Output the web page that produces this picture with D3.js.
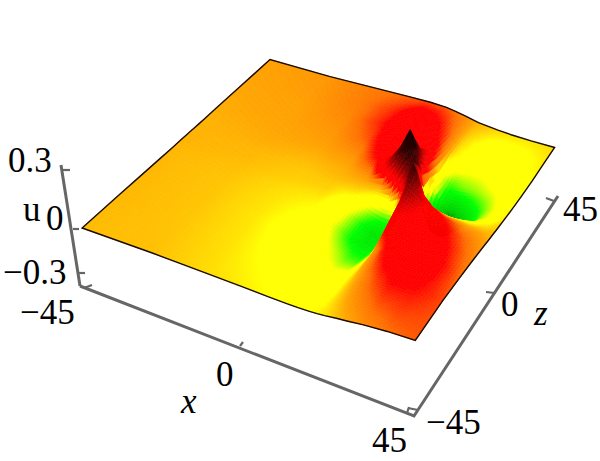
<!DOCTYPE html>
<html>
<head>
<meta charset="utf-8">
<script src="https://cdn.jsdelivr.net/npm/d3@7"></script>
<style>
  html, body { margin: 0; padding: 0; background: #fff; }
  text { font-family: "Liberation Serif", serif; font-size: 35px; fill: #000; }
</style>
</head>
<body>
<svg id="chart" width="600" height="461">
  <defs><filter id="soft" x="0" y="0" width="100%" height="100%"><feGaussianBlur stdDeviation="0.7"/></filter></defs>
</svg>
<script>
// sample positions of the surface, tighter around the peak
const xGrid = [-45, -25, -10, 0, 7, 12, 15, 18, 20, 22, 25, 28, 32, 38, 45];
const zGrid = [-45, -30, -20, -12, -6, -2, 1, 3, 5, 7, 10, 14, 20, 28, 36, 45];

// u, one row per zGrid entry
const uRows = [
  [-.005, -.006, -.012, -.016, -.020, -.022, -.022, -.020, -.018, -.014, -.006, .000, .010, .020, .025],
  [-.004, -.007, -.014, -.024, -.030, -.038, -.040, -.035, -.025, -.005, .015, .030, .042, .040, .028],
  [-.004, -.007, -.015, -.028, -.040, -.060, -.075, -.078, -.050, .005, .040, .060, .060, .050, .020],
  [-.004, -.007, -.014, -.022, -.055, -.090, -.100, -.100, -.080, .060, .068, .068, .060, .040, .012],
  [-.004, -.006, -.012, -.016, -.048, -.090, -.110, -.105, -.070, .100, .085, .070, .055, .028, .004],
  [-.003, -.005, -.009, -.010, -.028, -.070, -.085, -.090, -.020, .150, .110, .070, .040, .012, -.002],
  [-.003, -.004, -.008, -.008, -.012, -.030, -.040, -.030, .100, .210, .080, .030, .005, -.005, -.005],
  [-.003, -.004, -.007, -.005, -.005, -.012, -.010, .070, .170, .160, .030, -.010, -.018, -.018, -.008],
  [-.003, -.003, -.006, -.003, .000, .005, .080, .200, .230, .030, -.090, -.090, -.050, -.030, -.010],
  [-.003, -.002, -.004, -.002, .008, .090, .170, .295, .210, -.030, -.160, -.180, -.120, -.050, -.012],
  [-.003, -.001, -.002, .002, .030, .100, .180, .220, .110, -.060, -.180, -.210, -.150, -.065, -.015],
  [-.002, .000, .002, .010, .050, .075, .120, .130, .050, -.020, -.110, -.140, -.110, -.065, -.018],
  [-.001, .001, .006, .025, .060, .070, .070, .060, .030, -.050, -.080, -.070, -.065, -.050, -.020],
  [0, .002, .012, .035, .060, .060, .050, .035, .010, -.015, -.025, -.040, -.040, -.030, -.020],
  [.001, .004, .016, .032, .050, .045, .035, .020, .005, -.010, -.020, -.028, -.030, -.026, -.016],
  [.002, .006, .016, .022, .026, .024, .018, .010, .004, -.002, -.006, -.010, -.013, -.014, -.012]
];

const xTicks = [-45, 0, 45];
const zTicks = [-45, 0, 45];
const uTicks = [-0.3, 0, 0.3];

const colorStops = [-.2, -.17, -.13, -.085, -.062, -.05, -.02, 0, .02, .04, .075, .13, .2, .3];
const colorValues = ["#002000", "#006000", "#00d000", "#00ff00", "#a8ff00", "#ffff00", "#ffff00",
  "#ffa500", "#ff7000", "#ff0000", "#ff0000", "#900000", "#300000", "#100000"];

const svg = d3.select("#chart");
const color = d3.scaleLinear().domain(colorStops).range(colorValues);

const sScale = d3.scaleLinear().domain([-45, 45]).range([0, 1]);
const tScale = d3.scaleLinear().domain([-45, 45]).range([0, 1]);
const liftScale = d3.scaleLinear().domain([-0.3, 0.3]).range([-0.0375, 0.0375]);

// square to quad homography, corners of the surface at u = 0
function makeHomography(p0, p1, p2, p3) {
  const dx1 = p1[0] - p2[0], dy1 = p1[1] - p2[1];
  const dx2 = p3[0] - p2[0], dy2 = p3[1] - p2[1];
  const sx = p0[0] - p1[0] + p2[0] - p3[0], sy = p0[1] - p1[1] + p2[1] - p3[1];
  const den = dx1 * dy2 - dx2 * dy1;
  const g = (sx * dy2 - dx2 * sy) / den, h = (dx1 * sy - sx * dy1) / den;
  const a = p1[0] - p0[0] + g * p1[0], b = p3[0] - p0[0] + h * p3[0];
  const d = p1[1] - p0[1] + g * p1[1], e = p3[1] - p0[1] + h * p3[1];
  return (s, t) => {
    const w = g * s + h * t + 1;
    return [(a * s + b * t + p0[0]) / w, (d * s + e * t + p0[1]) / w];
  };
}

const ground = makeHomography([82, 227], [415, 345], [555, 145], [270, 60]);
const vanish = [320, 1800];

function project(x, z, u) {
  const g = ground(sScale(x), tScale(z));
  const k = 1 + liftScale(u);
  return [vanish[0] + (g[0] - vanish[0]) * k, vanish[1] + (g[1] - vanish[1]) * k, g[1]];
}

// each grid cell is shaded in small pieces between its four corners
function sampleU(i, j, fx, fz) {
  const r0 = uRows[j], r1 = uRows[j + 1];
  return (r0[i] * (1 - fx) + r0[i + 1] * fx) * (1 - fz) + (r1[i] * (1 - fx) + r1[i + 1] * fx) * fz;
}

const pieces = [];
for (let j = 0; j < zGrid.length - 1; j++) {
  for (let i = 0; i < xGrid.length - 1; i++) {
    const dx = xGrid[i + 1] - xGrid[i], dz = zGrid[j + 1] - zGrid[j];
    const nx = Math.ceil(dx / 0.8), nz = Math.ceil(dz / 0.8);
    for (let b = 0; b < nz; b++) {
      for (let a = 0; a < nx; a++) {
        const corners = [[a, b], [a + 1, b], [a + 1, b + 1], [a, b + 1]].map(c => {
          const fx = c[0] / nx, fz = c[1] / nz;
          return project(xGrid[i] + fx * dx, zGrid[j] + fz * dz, sampleU(i, j, fx, fz));
        });
        const mid = sampleU(i, j, (a + .5) / nx, (b + .5) / nz);
        pieces.push({ corners: corners, u: mid, depth: d3.mean(corners, c => c[2]) });
      }
    }
  }
}
pieces.sort((a, b) => d3.ascending(a.depth, b.depth));

const line = d3.line();

svg.append("g").attr("filter", "url(#soft)").selectAll("path")
  .data(pieces)
  .join("path")
  .attr("d", d => line(d.corners.map(c => [c[0], c[1]])) + "Z")
  .attr("fill", d => color(d.u))
  .attr("stroke", d => color(d.u))
  .attr("stroke-width", 0.7);

// outline of the sheet
const edge = [];
xGrid.forEach((x, i) => edge.push(project(x, -45, uRows[0][i])));
zGrid.forEach((z, j) => edge.push(project(45, z, uRows[j][xGrid.length - 1])));
xGrid.slice().reverse().forEach((x, i) => edge.push(project(x, 45, uRows[zGrid.length - 1][xGrid.length - 1 - i])));
zGrid.slice().reverse().forEach((z, j) => edge.push(project(-45, z, uRows[zGrid.length - 1 - j][0])));
svg.append("path")
  .attr("d", d3.line()(edge.map(c => [c[0], c[1]])) + "Z")
  .attr("fill", "none")
  .attr("stroke", "#1a0a00")
  .attr("stroke-width", 1.4);

// axes of the box, the lines run a little past the end ticks
const xAxisScale = d3.scaleLinear().domain(xTicks).range([[84, 288], [240, 346], [407, 413]]);
const zAxisScale = d3.scaleLinear().domain(zTicks).range([[418, 410], [495, 293], [554, 201]]);
const uAxisScale = d3.scaleLinear().domain(uTicks).range([[78, 273], [73, 229], [62, 170]]);
const xStubs = [[8, -3], [3, -4], [2, -6]];
const zStubs = [[-10, -2], [-9, -1], [-8, -3]];
const uStubs = [[7, 0], [6, 0], [8, 0]];

const axes = svg.append("g").attr("stroke", "#666").attr("fill", "none").attr("stroke-width", 3);
axes.append("path").attr("d", line([[80, 286], [414, 416], [558, 196]]));
axes.append("path").attr("d", line([[61, 165], [80, 286]]));
[[xAxisScale, xTicks, xStubs], [zAxisScale, zTicks, zStubs], [uAxisScale, uTicks, uStubs]].forEach(([scale, ticks, stubs]) => {
  ticks.forEach((t, i) => {
    const p = scale(t);
    axes.append("path").attr("stroke-width", 2.2).attr("d", line([p, [p[0] + stubs[i][0], p[1] + stubs[i][1]]]));
  });
});

// labels
const labels = [
  ["0.3", 8, 172], ["u", 23, 221], ["0", 46, 230], ["\u22120.3", 3, 284], ["\u221245", 20, 324],
  ["0", 216, 386], ["45", 372, 452], ["\u221245", 426, 434], ["0", 501, 316], ["45", 563, 221]
];
svg.append("g").selectAll("text").data(labels).join("text")
  .attr("x", d => d[1]).attr("y", d => d[2]).text(d => d[0]);
svg.append("text").attr("x", 181).attr("y", 413).attr("font-style", "italic").text("x");
svg.append("text").attr("x", 534).attr("y", 325).attr("font-style", "italic").text("z");
</script>
</body>
</html>
